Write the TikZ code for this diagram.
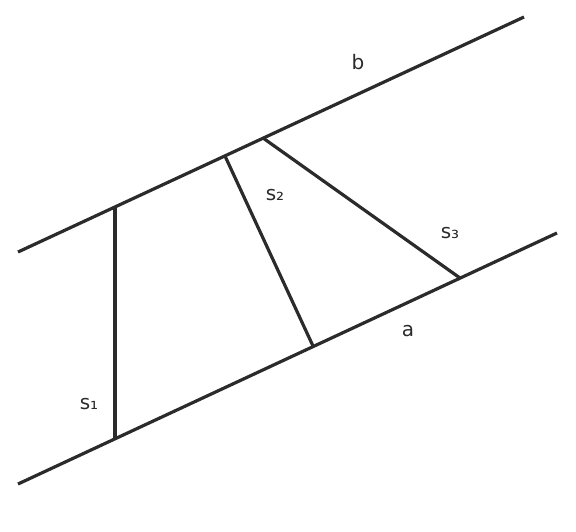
\documentclass[tikz,border=0pt]{standalone}
\usepackage{fontspec}
\setmainfont{DejaVu Sans}
\usepackage{tikz}
\definecolor{linegray}{RGB}{43,43,43}
\tikzset{
  edge/.style={draw=linegray, line width=3.2pt},
  lbl/.style={text=linegray, font=\fontsize{20}{24}\selectfont, inner sep=0pt}
}
\begin{document}
\begin{tikzpicture}[x=1pt,y=-1pt]
			\useasboundingbox (0,0) rectangle (576,531);
			% the two parallel lines
			\coordinate (a0) at (18,484);
			\coordinate (a1) at (557,233);
			\coordinate (b0) at (18,252);
			\coordinate (b1) at (524,17);
			% ends of the segments
			\coordinate (s1b) at (115,439);
			\coordinate (s1t) at (115,207);
			\coordinate (s2b) at (313,346);
			\coordinate (s2t) at (225,156);
			\coordinate (s3b) at (460,278);
			\coordinate (s3t) at (263,138);
			\draw[edge] (a0) -- (a1);
			\draw[edge] (b0) -- (b1);
			\draw[edge] (s1b) -- (s1t);
			\draw[edge] (s2b) -- (s2t);
			\draw[edge] (s3b) -- (s3t);
			\node[lbl] (la) at (408,331) {a};
			\node[lbl] (lb) at (358,62) {b};
			\node[lbl] (ls1) at (89,404) {s₁};
			\node[lbl] (ls2) at (275,195) {s₂};
			\node[lbl] (ls3) at (450,233) {s₃};
		\end{tikzpicture}
\end{document}
